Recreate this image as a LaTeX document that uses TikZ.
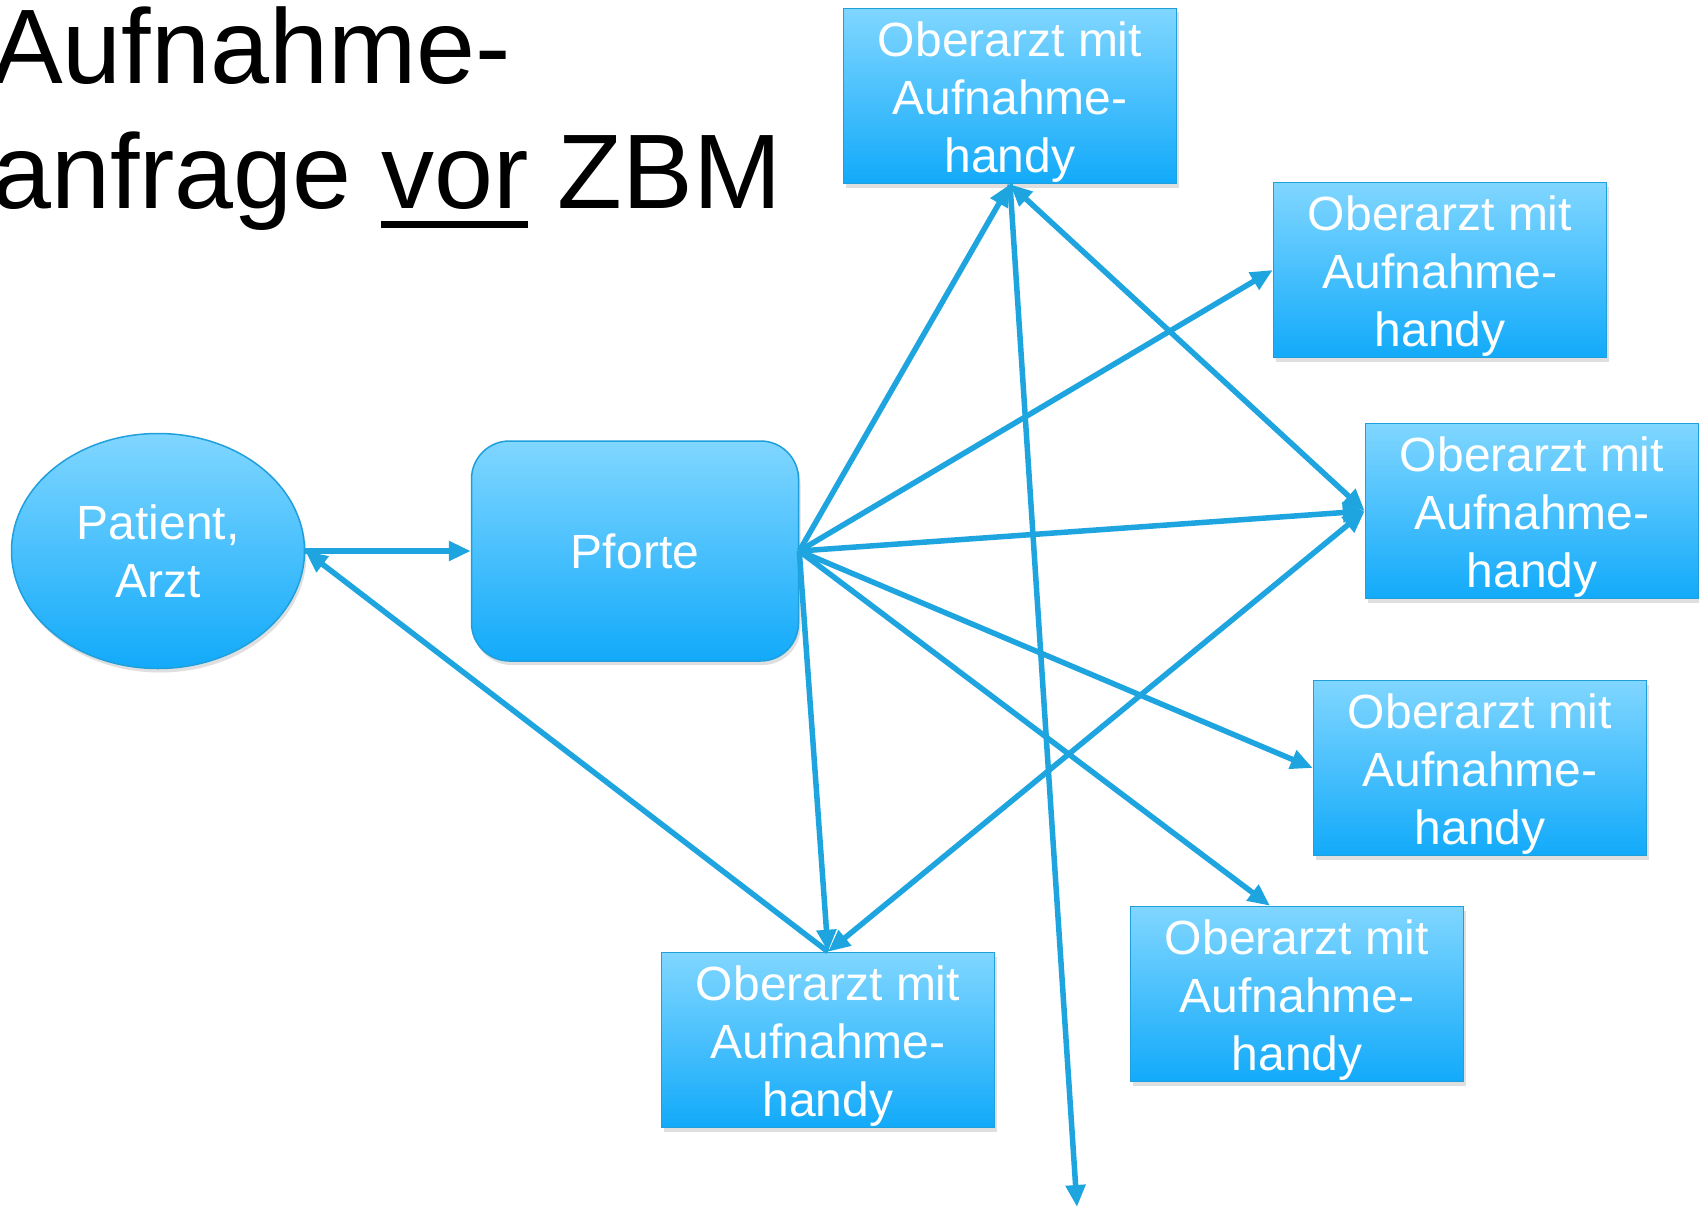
\documentclass[tikz,border=0pt]{standalone}
\usepackage{fontspec}
\setmainfont{Liberation Sans}
\usetikzlibrary{arrows.meta,shapes.geometric,shadows}
\definecolor{boxtop}{RGB}{128,214,255}
\definecolor{boxbot}{RGB}{18,170,250}
\definecolor{boxline}{RGB}{31,160,221}
\definecolor{link}{RGB}{30,165,224}
\newcommand{\oatext}{\rule{0pt}{47pt}Oberarzt mit\\Aufnahme-\\handy}
\newcommand{\thickul}[1]{{\setbox0\hbox{#1}\rlap{\rule[-20pt]{\wd0}{7pt}}\box0}}
\begin{document}
\begin{tikzpicture}[x=1pt,y=-1pt,
  every node/.style={text=white,font=\fontsize{48}{58}\selectfont,align=center,inner sep=0pt},
  title/.style={text=black,font=\fontsize{106}{125}\selectfont,anchor=base west},
  blue fill/.style={top color=boxtop,bottom color=boxbot,draw=boxline,line width=1.5pt,
    drop shadow={shadow xshift=2pt,shadow yshift=-4pt,opacity=0.25}},
  oa/.style={blue fill,rectangle,minimum width=333pt,minimum height=175pt},
  link/.style={draw=link,line width=5.5pt,-{Triangle[length=22pt,width=19pt]}},
  both/.style={link,{Triangle[length=22pt,width=19pt]}-{Triangle[length=22pt,width=19pt]}}]
\useasboundingbox[fill=white] (0,0) rectangle (1699,1207);

\node[title] (t1) at (-8,83) {Aufnahme-};
\node[title] (t2) at (-8,208) {anfrage \thickul{vor} ZBM};

\node[blue fill,ellipse,minimum width=293pt,minimum height=235pt] (pat) at (158,551) {Patient,\\Arzt};
\node[blue fill,rectangle,rounded corners=38pt,minimum width=327pt,minimum height=220pt] (pf) at (635,551) {Pforte};

\node[oa] (a) at (1010,96) {\oatext};
\node[oa] (b) at (1440,270) {\oatext};
\node[oa] (c) at (1532,511) {\oatext};
\node[oa] (d) at (1480,768) {\oatext};
\node[oa] (e) at (1297,994) {\oatext};
\node[oa] (f) at (828,1040) {\oatext};
\coordinate (out) at (1077,1207);

\draw[link] (pat) -- (pf);
\draw[link] (f.north) -- (pat.east);

\draw[link] (pf.east) -- (a.south);
\draw[link] (pf.east) -- (b.west);
\draw[link] (pf.east) -- (c.west);
\draw[link] (pf.east) -- (d.west);
\draw[link] (pf.east) -- ([xshift=-27pt]e.north);
\draw[link] (pf.east) -- (f.north);

\draw[both] (a.south) -- (c.west);
\draw[link] (a.south) -- (out);
\draw[both] (c.west) -- (f.north);
\end{tikzpicture}
\end{document}
